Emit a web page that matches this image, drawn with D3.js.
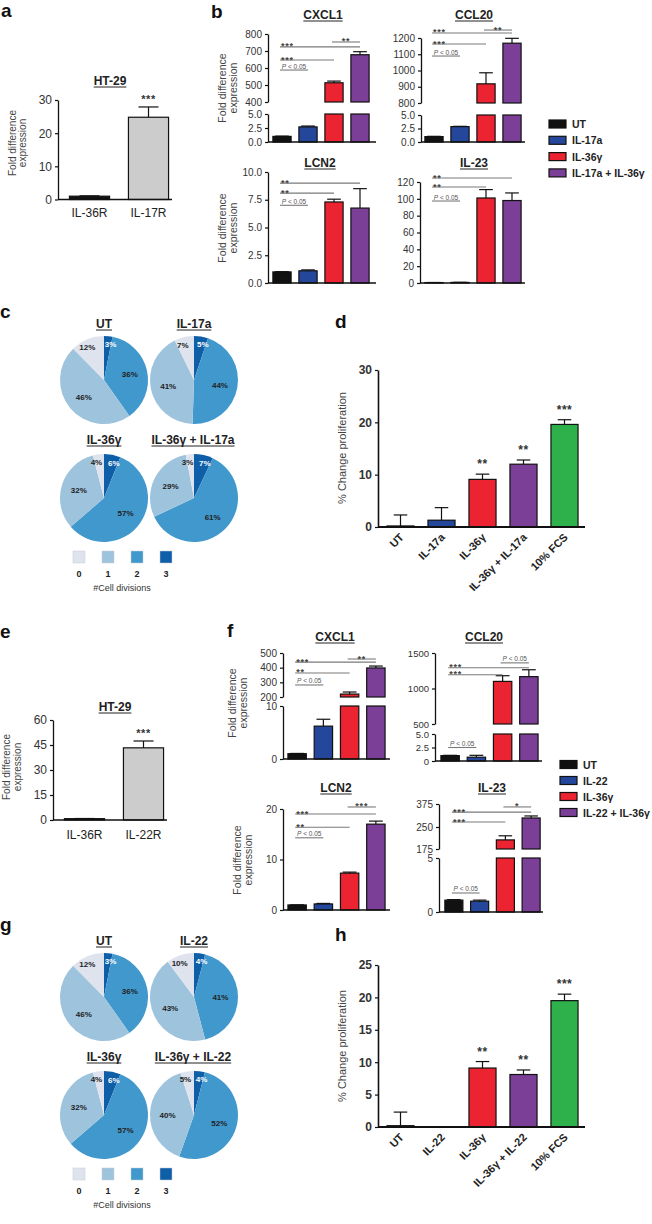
<!DOCTYPE html>
<html><head><meta charset="utf-8">
<script src="https://cdn.jsdelivr.net/npm/d3@7"></script>
<style>body{margin:0;background:#fff} svg{display:block;font-family:"Liberation Sans",Arial,Helvetica,sans-serif}</style>
</head><body><svg id="c" width="652" height="1224"></svg>
<script>
// ---------------- DATA ----------------
const aCats = ["IL-36R", "IL-17R"];
const aVals = [1.0, 24.8];
const aErrs = [0.1, 3.1];
const aStars = ["", "***"];
const aTicks = [0, 10, 20, 30];

const bGroups = ["UT", "IL-17a", "IL-36γ", "IL-17a + IL-36γ"];
const barColors = ["#111111", "#24479c", "#ec2330", "#7b3f97"];
const bCXCL1 = [1.0, 2.7, 513, 678];
const bCXCL1Err = [0.05, 0.15, 10, 18];
const bCXCL1Sig = [[0, 3, 724, "***"], [2, 3, 753, "**"], [0, 2, 647, "***"], [0, 1, 588, "P < 0.05"]];
const bCCL20 = [1.0, 2.85, 918, 1168];
const bCCL20Err = [0.05, 0.05, 68, 30];
const bCCL20Sig = [[0, 3, 1231, "***"], [2, 3, 1249, "**"], [0, 2, 1163, "***"], [0, 1, 1089, "P < 0.05"]];
const bLCN2 = [1.0, 1.1, 7.3, 6.75];
const bLCN2Err = [0.02, 0.08, 0.25, 1.75];
const bLCN2Sig = [[0, 3, 9.0, "**"], [0, 2, 8.1, "**"], [0, 1, 7.0, "P < 0.05"]];
const bIL23 = [0.5, 0.7, 101, 98];
const bIL23Err = [0.1, 0.1, 10, 9];
const bIL23Sig = [[0, 3, 124.7, "**"], [0, 2, 114, "**"], [0, 1, 97.4, "P < 0.05"]];
const bTicksLow = [0, 2.5, 5];
const bCXCL1TicksHigh = [400, 500, 600, 700, 800];
const bCCL20TicksHigh = [800, 900, 1000, 1100, 1200];
const bLCN2Ticks = [0, 2.5, 5, 7.5, 10];
const bIL23Ticks = [0, 20, 40, 60, 80, 100, 120];

const divCats = ["0", "1", "2", "3"];
const pieColors = ["#dfe3ee", "#9ec3dd", "#4098cd", "#0e5ea8"];
const cTitles = ["UT", "IL-17a", "IL-36γ", "IL-36γ + IL-17a"];
const cUT = [12, 46, 36, 3];
const cIL17a = [7, 41, 44, 5];
const cIL36g = [4, 32, 57, 6];
const cCombo = [3, 29, 61, 7];

const dCats = ["UT", "IL-17a", "IL-36γ", "IL-36γ + IL-17a", "10% FCS"];
const propColors = ["#111111", "#24479c", "#ec2330", "#7b3f97", "#2eb14b"];
const dVals = [0.2, 1.3, 9.1, 12.0, 19.6];
const dErrs = [2.1, 2.4, 1.0, 0.8, 0.9];
const dStars = ["", "", "**", "**", "***"];
const dTicks = [0, 10, 20, 30];

const eCats = ["IL-36R", "IL-22R"];
const eVals = [0.8, 43.3];
const eErrs = [0.1, 4.1];
const eStars = ["", "***"];
const eTicks = [0, 15, 30, 45, 60];

const fGroups = ["UT", "IL-22", "IL-36γ", "IL-22 + IL-36γ"];
const fCXCL1 = [1.0, 6.2, 220, 398];
const fCXCL1Err = [0.05, 1.3, 14, 13];
const fCXCL1Sig = [[0, 3, 438, "***"], [2, 3, 459, "**"], [0, 2, 364, "**"], [0, 1, 282, "P < 0.05"]];
const fCXCL1TicksLow = [0, 10];
const fCXCL1TicksHigh = [200, 300, 400, 500];
const fCCL20 = [1.0, 0.7, 1100, 1167];
const fCCL20Err = [0.05, 0.35, 80, 97];
const fCCL20Sig = [[0, 3, 1292, "***"], [2, 3, 1361, "P < 0.05"], [0, 2, 1194, "***"], [0, 1, 2.5, "P < 0.05"]];
const fCCL20TicksLow = [0, 2.5, 5];
const fCCL20TicksHigh = [500, 1000, 1500];
const fLCN2 = [1.0, 1.2, 7.3, 17.0];
const fLCN2Err = [0.02, 0.1, 0.2, 0.6];
const fLCN2Sig = [[0, 3, 19.0, "***"], [2, 3, 20.4, "***"], [0, 2, 16.4, "**"], [0, 1, 14.3, "P < 0.05"]];
const fLCN2Ticks = [0, 10, 20];
const fIL23 = [1.1, 1.0, 206, 299];
const fIL23Err = [0.05, 0.1, 14, 11];
const fIL23Sig = [[0, 3, 331, "***"], [2, 3, 359, "*"], [0, 2, 277, "***"], [0, 1, 1.76, "P < 0.05"]];
const fIL23TicksLow = [0, 5];
const fIL23TicksHigh = [175, 250, 375];

const gTitles = ["UT", "IL-22", "IL-36γ", "IL-36γ + IL-22"];
const gUT = [12, 46, 36, 3];
const gIL22 = [10, 43, 41, 4];
const gIL36g = [4, 32, 57, 6];
const gCombo = [5, 40, 52, 4];

const hCats = ["UT", "IL-22", "IL-36γ", "IL-36γ + IL-22", "10% FCS"];
const hVals = [0.2, 0.05, 9.1, 8.1, 19.5];
const hErrs = [2.1, 0, 1.0, 0.7, 1.0];
const hStars = ["", "", "**", "**", "***"];
const hTicks = [0, 5, 10, 15, 20, 25];

// ---------------- DRAWING ----------------
const svg = d3.select("#c");

function letter(t, x, y) {
  svg.append("text").attr("x", x).attr("y", y).attr("font-size", 19).attr("font-weight", "bold").attr("fill", "#111").text(t);
}
function title(t, cx, y, size) {
  const tx = svg.append("text").attr("x", cx).attr("y", y).attr("text-anchor", "middle")
    .attr("font-size", size || 12).attr("font-weight", "bold").attr("fill", "#222").text(t);
  const w = tx.node().getComputedTextLength();
  svg.append("line").attr("x1", cx - w / 2).attr("x2", cx + w / 2).attr("y1", y + 2).attr("y2", y + 2)
    .attr("stroke", "#222").attr("stroke-width", 1);
}
function yLabel(lines, x, cy, size, gap) {
  lines.forEach((l, i) => svg.append("text")
    .attr("transform", `translate(${x + i * gap},${cy}) rotate(-90)`)
    .attr("text-anchor", "middle").attr("font-size", size).attr("fill", "#444").text(l));
}

function bars(o) {
  const n = o.vals.length;
  const x = d3.scaleBand().domain(d3.range(n)).range(o.band).paddingInner(o.pi).paddingOuter(o.po);
  const bw = x.bandwidth();
  const segs = o.segs.map(s => Object.assign({}, s, {
    sc: d3.scaleLinear().domain(s.dom).range(s.rng),
    lo: s.dom[0], hi: s.dom[s.dom.length - 1]
  }));
  const segOf = v => {
    let s = segs.find(s => v >= s.lo && v <= s.hi);
    if (!s) s = v > segs[segs.length - 1].lo ? segs[segs.length - 1] : segs[0];
    return s;
  };
  const yOf = v => segOf(v).sc(v);
  const g = svg.append("g");
  const idx = d3.range(n);
  // bars
  segs.forEach((s, si) => {
    const last = si === segs.length - 1;
    const top = v => s.sc(last ? v : Math.min(v, s.hi));
    g.append("g").selectAll("rect").data(idx.filter(i => o.vals[i] > s.lo)).join("rect")
      .attr("x", i => x(i)).attr("width", bw)
      .attr("y", i => top(o.vals[i]))
      .attr("height", i => s.sc(s.lo) - top(o.vals[i]))
      .attr("fill", i => o.colors[i]).attr("stroke", "#111").attr("stroke-width", o.sw || 1.2);
  });
  // error bars
  const cap = bw * o.cap;
  const eg = g.append("g").attr("stroke", "#111").attr("stroke-width", 1.2);
  idx.filter(i => o.errs[i] > 0).forEach(i => {
    const s = segOf(o.vals[i]);
    const cx = x(i) + bw / 2;
    const y1 = s.sc(o.vals[i]), y2 = s.sc(o.vals[i] + o.errs[i]);
    eg.append("line").attr("x1", cx).attr("x2", cx).attr("y1", y1).attr("y2", y2);
    eg.append("line").attr("x1", cx - cap / 2).attr("x2", cx + cap / 2).attr("y1", y2).attr("y2", y2);
  });
  // axes
  segs.forEach(s => {
    const ax = g.append("g").attr("transform", `translate(${o.axisX},0)`)
      .call(d3.axisLeft(s.sc).tickValues(s.ticks).tickFormat(s.fmt || (d => d)).tickSize(3).tickSizeOuter(0).tickPadding(3));
    ax.select(".domain").attr("stroke", "#111").attr("stroke-width", o.axw || 1.3);
    ax.selectAll(".tick line").attr("stroke", "#111").attr("stroke-width", 1.2);
    ax.selectAll(".tick text").attr("font-size", o.tickSize).attr("fill", "#333")
      .attr("font-weight", o.tickBold ? "bold" : "normal").attr("font-family", null);
  });
  g.append("line").attr("x1", o.axisX).attr("x2", o.xEnd)
    .attr("y1", segs[0].rng[0]).attr("y2", segs[0].rng[0])
    .attr("stroke", "#111").attr("stroke-width", o.xw || 1.5);
  // significance brackets
  (o.sig || []).forEach(([i, j, lev, lab]) => {
    const x1 = x(i) + bw / 2 - 2, x2 = x(j) + bw / 2, y = yOf(lev);
    g.append("line").attr("x1", x1).attr("x2", x2).attr("y1", y).attr("y2", y)
      .attr("stroke", "#7a7a7a").attr("stroke-width", 1.1);
    const long = j - i >= 2;
    const tx = long ? x1 + 1 : (x1 + x2) / 2;
    if (lab.startsWith("P")) {
      const t = g.append("text").attr("x", tx).attr("y", y - 1.5).attr("text-anchor", long ? "start" : "middle")
        .attr("font-size", 6.5).attr("fill", "#555");
      t.append("tspan").attr("font-style", "italic").text("P");
      t.append("tspan").text(lab.slice(1));
    } else {
      g.append("text").attr("x", tx).attr("y", y + 2.5).attr("text-anchor", long ? "start" : "middle")
        .attr("font-size", 9).attr("font-weight", "bold").attr("letter-spacing", 0.8).attr("fill", "#444").text(lab);
    }
  });
  // stars above bars
  (o.stars || []).forEach((st, i) => {
    if (!st) return;
    g.append("text").attr("x", x(i) + bw / 2).attr("y", yOf(o.vals[i] + o.errs[i]) - o.starGap)
      .attr("text-anchor", "middle").attr("font-size", o.starSize).attr("font-weight", "bold")
      .attr("letter-spacing", 0.5).attr("fill", "#333").text(st);
  });
  // category labels
  if (o.cats && o.catMode === "flat") {
    o.cats.forEach((c, i) => g.append("text").attr("x", x(i) + bw / 2).attr("y", o.catY)
      .attr("text-anchor", "middle").attr("font-size", 12).attr("fill", "#222").text(c));
  }
  if (o.cats && o.catMode === "rot") {
    o.cats.forEach((c, i) => g.append("text")
      .attr("transform", `translate(${x(i) + bw / 2 + 4},${o.catY}) rotate(-45)`)
      .attr("text-anchor", "end").attr("font-size", 11).attr("font-weight", "bold").attr("fill", "#222").text(c));
  }
}

function legend(names, x, y0, dy) {
  names.forEach((nm, i) => {
    const cy = y0 + i * dy;
    svg.append("rect").attr("x", x).attr("y", cy - 4).attr("width", 17).attr("height", 8)
      .attr("fill", barColors[i]).attr("stroke", "#111").attr("stroke-width", 1.2);
    svg.append("text").attr("x", x + 23).attr("y", cy + 4).attr("font-size", 10.5).attr("font-weight", "bold")
      .attr("fill", "#222").text(nm);
  });
}

function pie(vals, cx, cy, r) {
  const order = [3, 2, 1, 0];
  const p = d3.pie().sort(null).value(i => vals[i])(order);
  const arc = d3.arc().innerRadius(0).outerRadius(r);
  const g = svg.append("g").attr("transform", `translate(${cx},${cy})`);
  g.selectAll("path").data(p).join("path").attr("d", arc).attr("fill", d => pieColors[d.data]);
  p.forEach(d => {
    const a = (d.startAngle + d.endAngle) / 2;
    const small = vals[d.data] < 15;
    const rr = small ? r * 0.82 : r * 0.6;
    let dx = Math.sin(a) * rr;
    if (small && d.data === 3) dx += 3;
    if (small && d.data === 0) dx -= 3;
    g.append("text").attr("x", dx).attr("y", -Math.cos(a) * rr + 3)
      .attr("text-anchor", "middle").attr("font-size", 8).attr("font-weight", "bold")
      .attr("fill", d.data === 3 ? "#fff" : "#222").text(vals[d.data] + "%");
  });
}

function pieLegend(y) {
  const xs = d3.scalePoint().domain(divCats).range([79, 166]);
  divCats.forEach((c, i) => {
    svg.append("rect").attr("x", xs(c) - 6).attr("y", y).attr("width", 12).attr("height", 12)
      .attr("fill", pieColors[i]).attr("stroke", "#c8ccd6").attr("stroke-width", 0.5);
    svg.append("text").attr("x", xs(c)).attr("y", y + 26).attr("text-anchor", "middle")
      .attr("font-size", 9).attr("font-weight", "bold").attr("fill", "#222").text(c);
  });
  svg.append("text").attr("x", 122).attr("y", y + 40).attr("text-anchor", "middle")
    .attr("font-size", 9).attr("fill", "#333").text("#Cell divisions");
}

const fmt1 = d3.format(".1f");

// ---- panel a ----
letter("a", 1, 17);
title("HT-29", 110, 85);
yLabel(["Fold difference", "expression"], 16, 143, 10, 10);
bars({vals: aVals, errs: aErrs, colors: ["#111111", "#cccccc"], band: [60, 178], pi: 0.32, po: 0.16,
  axisX: 58, xEnd: 172, segs: [{dom: [0, 30], rng: [199.5, 100], ticks: aTicks}],
  cap: 0.5, tickSize: 12, stars: aStars, starGap: 4, starSize: 11, cats: aCats, catMode: "flat", catY: 217});

// ---- panel b ----
letter("b", 211, 18);
title("CXCL1", 323, 19);
title("CCL20", 474, 19);
title("LCN2", 320, 167);
title("IL-23", 474, 167);
yLabel(["Fold difference", "expression"], 226, 88, 10.5, 11);
yLabel(["Fold difference", "expression"], 226, 228, 10.5, 11);
bars({vals: bCXCL1, errs: bCXCL1Err, colors: barColors, band: [269, 373], pi: 0.3, po: 0.15, axisX: 268, xEnd: 376,
  segs: [{dom: [0, 5], rng: [142, 114], ticks: bTicksLow, fmt: fmt1}, {dom: [400, 800], rng: [102, 34], ticks: bCXCL1TicksHigh}],
  cap: 0.75, tickSize: 10, sig: bCXCL1Sig});
bars({vals: bCCL20, errs: bCCL20Err, colors: barColors, band: [421, 525], pi: 0.3, po: 0.15, axisX: 421, xEnd: 525,
  segs: [{dom: [0, 5], rng: [142, 115], ticks: bTicksLow, fmt: fmt1}, {dom: [800, 1200], rng: [103, 38], ticks: bCCL20TicksHigh}],
  cap: 0.75, tickSize: 10, sig: bCCL20Sig});
bars({vals: bLCN2, errs: bLCN2Err, colors: barColors, band: [269, 373], pi: 0.3, po: 0.15, axisX: 268, xEnd: 376,
  segs: [{dom: [0, 10], rng: [283, 172], ticks: bLCN2Ticks, fmt: fmt1}],
  cap: 0.75, tickSize: 10, sig: bLCN2Sig});
bars({vals: bIL23, errs: bIL23Err, colors: barColors, band: [421, 525], pi: 0.3, po: 0.15, axisX: 420, xEnd: 525,
  segs: [{dom: [0, 120], rng: [283, 182], ticks: bIL23Ticks}],
  cap: 0.75, tickSize: 10, sig: bIL23Sig});
legend(bGroups, 549, 124, 16.3);

// ---- panel c ----
letter("c", 0, 318);
title(cTitles[0], 104, 328);
title(cTitles[1], 194, 328);
title(cTitles[2], 104, 444);
title(cTitles[3], 193, 444);
pie(cUT, 104, 380, 44);
pie(cIL17a, 194, 380, 44);
pie(cIL36g, 104, 498, 44);
pie(cCombo, 194, 498, 44);
pieLegend(551);

// ---- panel d ----
letter("d", 335, 328);
yLabel(["% Change proliferation"], 346, 448, 11, 0);
bars({vals: dVals, errs: dErrs, colors: propColors, band: [380, 585], pi: 0.34, po: 0.17, axisX: 378, xEnd: 585,
  segs: [{dom: [0, 30], rng: [527, 370], ticks: dTicks}], axw: 1.6, xw: 2,
  cap: 0.5, tickSize: 12, tickBold: true, stars: dStars, starGap: 6, starSize: 12, cats: dCats, catMode: "rot", catY: 538});

// ---- panel e ----
letter("e", 0, 638);
title("HT-29", 115, 711);
yLabel(["Fold difference", "expression"], 10, 767, 10, 11);
bars({vals: eVals, errs: eErrs, colors: ["#111111", "#cccccc"], band: [55, 173], pi: 0.32, po: 0.16,
  axisX: 53, xEnd: 167, segs: [{dom: [0, 60], rng: [820, 720], ticks: eTicks}],
  cap: 0.5, tickSize: 12, stars: eStars, starGap: 4, starSize: 11, cats: eCats, catMode: "flat", catY: 839});

// ---- panel f ----
letter("f", 227, 637);
title("CXCL1", 335, 641);
title("CCL20", 484, 641);
title("LCN2", 336, 792);
title("IL-23", 492, 792);
yLabel(["Fold difference", "expression"], 236, 703, 10.5, 11);
yLabel(["Fold difference", "expression"], 241, 860, 10.5, 11);
bars({vals: fCXCL1, errs: fCXCL1Err, colors: barColors, band: [284, 389], pi: 0.3, po: 0.15, axisX: 283, xEnd: 390,
  segs: [{dom: [0, 10], rng: [759, 706], ticks: fCXCL1TicksLow}, {dom: [200, 500], rng: [697, 653], ticks: fCXCL1TicksHigh}],
  cap: 0.75, tickSize: 10, sig: fCXCL1Sig});
bars({vals: fCCL20, errs: fCCL20Err, colors: barColors, band: [437, 542], pi: 0.3, po: 0.15, axisX: 435, xEnd: 542,
  segs: [{dom: [0, 5], rng: [761, 734], ticks: fCCL20TicksLow, fmt: d => d === 0 ? "0" : fmt1(d)}, {dom: [500, 1500], rng: [724, 653], ticks: fCCL20TicksHigh}],
  cap: 0.75, tickSize: 9.5, sig: fCCL20Sig});
bars({vals: fLCN2, errs: fLCN2Err, colors: barColors, band: [284, 389], pi: 0.3, po: 0.15, axisX: 283, xEnd: 390,
  segs: [{dom: [0, 20], rng: [910, 809], ticks: fLCN2Ticks}],
  cap: 0.75, tickSize: 10, sig: fLCN2Sig});
bars({vals: fIL23, errs: fIL23Err, colors: barColors, band: [441, 544], pi: 0.3, po: 0.15, axisX: 439, xEnd: 543,
  segs: [{dom: [0, 5], rng: [912, 858], ticks: fIL23TicksLow}, {dom: [175, 250, 375], rng: [849, 827, 804], ticks: fIL23TicksHigh}],
  cap: 0.75, tickSize: 10, sig: fIL23Sig});
legend(fGroups, 560, 764.5, 16);

// ---- panel g ----
letter("g", 0, 931);
title(gTitles[0], 104, 945);
title(gTitles[1], 194, 945);
title(gTitles[2], 104, 1061);
title(gTitles[3], 193, 1061);
pie(gUT, 104, 997, 44);
pie(gIL22, 194, 997, 44);
pie(gIL36g, 104, 1115, 44);
pie(gCombo, 194, 1115, 44);
pieLegend(1168);

// ---- panel h ----
letter("h", 335, 941);
yLabel(["% Change proliferation"], 346, 1046, 11, 0);
bars({vals: hVals, errs: hErrs, colors: propColors, band: [380, 585], pi: 0.34, po: 0.17, axisX: 378, xEnd: 585,
  segs: [{dom: [0, 25], rng: [1127, 965], ticks: hTicks}], axw: 1.6, xw: 2,
  cap: 0.5, tickSize: 12, tickBold: true, stars: hStars, starGap: 6, starSize: 12, cats: hCats, catMode: "rot", catY: 1138});
</script>
</body></html>
